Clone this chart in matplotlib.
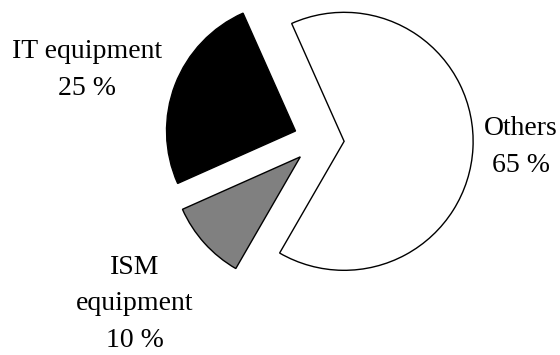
import matplotlib
matplotlib.use("Agg")
import matplotlib.pyplot as plt

categories = ["Others", "IT equipment", "ISM\nequipment"]
shares = [65, 25, 10]
colors = ["#ffffff", "#000000", "#808080"]

plt.rcParams['font.family'] = ['Liberation Serif', 'DejaVu Serif']

fig = plt.figure(figsize=(5.6, 3.55), dpi=100)
ax = fig.add_axes([0, 0, 1, 1])
ax.pie(shares, colors=colors, startangle=-120, counterclock=True,
       explode=[0.195, 0.195, 0.195], radius=1.0,
       wedgeprops=dict(edgecolor="black", linewidth=1.0))

# axes limits so that the pie fills the frame like the reference
scale = 129.0
cx, cy = 319.0, 140.0
ax.set_xlim(-cx / scale, (560 - cx) / scale)
ax.set_ylim(-(355 - cy) / scale, cy / scale)
ax.set_aspect('auto')
ax.axis('off')

label_pos = [(521, 147), (87, 70), (135, 304)]
for name, val, (px, py) in zip(categories, shares, label_pos):
    ax.text((px - cx) / scale, (cy - py) / scale, f"{name}\n{val} %",
            ha='center', va='center', multialignment='center',
            fontsize=20, linespacing=1.58)

fig.savefig("out.png", dpi=100)
